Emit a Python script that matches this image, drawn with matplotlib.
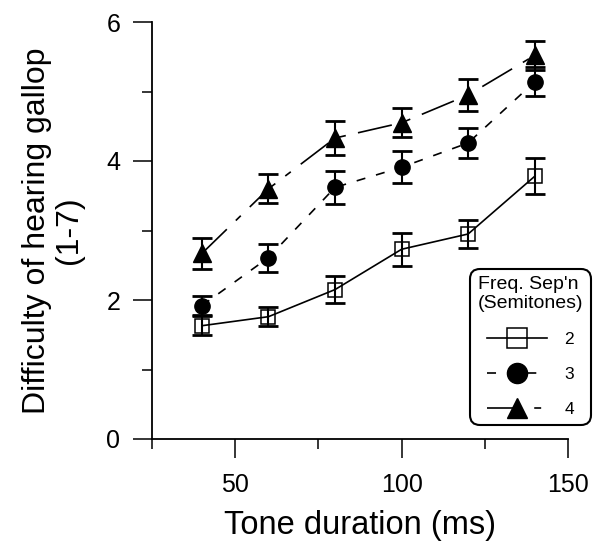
import numpy as np
import matplotlib
matplotlib.use("Agg")
import matplotlib.pyplot as plt
from matplotlib.ticker import MultipleLocator
from matplotlib.lines import Line2D

plt.rcParams['font.family'] = ['Liberation Sans', 'DejaVu Sans']
plt.rcParams['lines.scale_dashes'] = False

# tone duration (ms)
durations = [40, 60, 80, 100, 120, 140]

# mean difficulty ratings and error bars per frequency separation
sep2 = [1.63, 1.76, 2.15, 2.73, 2.95, 3.78]
sep2_err = [0.14, 0.14, 0.20, 0.24, 0.20, 0.26]
sep3 = [1.92, 2.61, 3.62, 3.91, 4.26, 5.14]
sep3_err = [0.14, 0.20, 0.24, 0.23, 0.21, 0.21]
sep4 = [2.67, 3.60, 4.33, 4.55, 4.95, 5.52]
sep4_err = [0.22, 0.21, 0.25, 0.21, 0.23, 0.21]
sep_labels = ["2", "3", "4"]

fig = plt.figure(figsize=(5.93, 5.44), dpi=100)
ax = fig.add_axes([152/593, 1 - 439/544, (568-152)/593, (439-22)/544])

err_kw = dict(ecolor='black', elinewidth=1.5, capsize=7, capthick=2)
line_kw = dict(color='black', lw=1.2)

ax.errorbar(durations, sep2, yerr=sep2_err, fmt='none', zorder=2, **err_kw)
ax.errorbar(durations, sep3, yerr=sep3_err, fmt='none', zorder=2, **err_kw)
ax.errorbar(durations, sep4, yerr=sep4_err, fmt='none', zorder=2, **err_kw)

ax.plot(durations, sep2, linestyle='-', marker='s', ms=10.5, mfc='none',
        mec='black', mew=1.1, zorder=3, **line_kw)
ax.plot(durations, sep3, linestyle=(0, (6.5, 8)), marker='o', ms=11,
        mfc='black', mec='black', zorder=3, **line_kw)
ax.plot(durations, sep4, linestyle=(0, (25, 9, 5, 9)), marker='^', ms=13.5,
        mfc='black', mec='black', zorder=3, **line_kw)

ax.set_xlim(25, 150)
ax.set_ylim(0, 6)
ax.xaxis.set_major_locator(MultipleLocator(50))
ax.xaxis.set_minor_locator(MultipleLocator(25))
ax.yaxis.set_major_locator(MultipleLocator(2))
ax.yaxis.set_minor_locator(MultipleLocator(1))

for s in ['top', 'right']:
    ax.spines[s].set_visible(False)
for s in ['left', 'bottom']:
    ax.spines[s].set_linewidth(1.3)

ax.tick_params(which='major', length=13.7, width=1.1, labelsize=18, pad=9)
ax.tick_params(which='minor', length=7, width=1.1)
ax.tick_params(axis='x', which='major', pad=11)

ax.set_xlabel("Tone duration (ms)", fontsize=23.5, labelpad=9)
ax.set_ylabel("Difficulty of hearing gallop\n(1-7)", fontsize=23, labelpad=16,
              linespacing=1.1)

handles = [
    Line2D([], [], color='black', lw=1.2, linestyle='-', marker='s', ms=14,
           mfc='none', mec='black', mew=1.1),
    Line2D([], [], color='black', lw=1.2, linestyle=(0, (6.5, 8)), marker='o',
           ms=14.5, mfc='black'),
    Line2D([], [], color='black', lw=1.2, linestyle=(0, (25, 9, 5, 9)),
           marker='^', ms=14.5, mfc='black'),
]
leg = ax.legend(handles, sep_labels, title="Freq. Sep'n\n(Semitones)",
                loc='lower right', bbox_to_anchor=(591/593, 1 - 425/544),
                bbox_transform=fig.transFigure, fontsize=12.5,
                title_fontsize=14, handlelength=3.45, handletextpad=1.0,
                labelspacing=1.15, borderpad=0.45, numpoints=1, fancybox=True,
                framealpha=1, edgecolor='black', borderaxespad=0)
leg.get_frame().set_linewidth(1.5)
leg.get_frame().set_boxstyle("round,pad=0,rounding_size=0.6")
leg.get_title().set_linespacing(1.15)
leg._legend_box.sep = 14

fig.savefig("out.png", dpi=100)
